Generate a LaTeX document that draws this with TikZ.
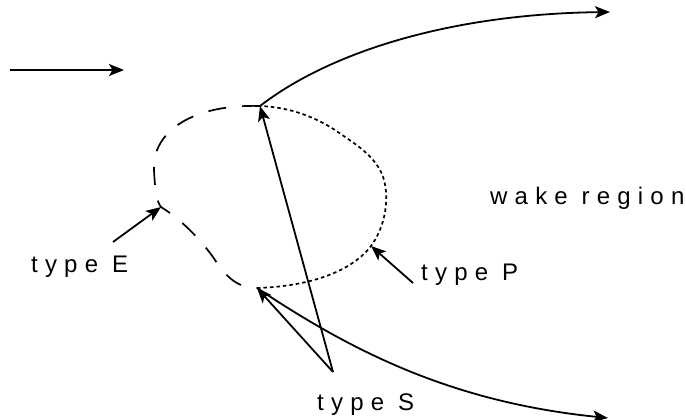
\documentclass[tikz,border=0pt]{standalone}
\usepackage{fontspec}
\setmainfont{Liberation Sans}[LetterSpace=30]
\usetikzlibrary{arrows.meta}
\begin{document}
\begin{tikzpicture}[x=1pt,y=-1pt,
  solidline/.style={line width=1.8pt},
  arr/.style={solidline,-{Stealth[length=15pt,width=12pt,inset=3.5pt]}},
  sepE/.style={line width=1.7pt,dash pattern=on 18pt off 16pt},
  sepP/.style={line width=1.7pt,dash pattern=on 3.5pt off 3pt},
  lbl/.style={font=\fontsize{24}{26}\selectfont,anchor=base west,inner sep=0pt}]
\useasboundingbox (0,0) rectangle (686,420);
% points
\coordinate (flowA) at (10,70);
\coordinate (flowB) at (124,70);
\coordinate (top) at (260,106);
\coordinate (bot) at (257,288);
\coordinate (topEnd) at (610,12);
\coordinate (botEnd) at (608,418);
\coordinate (Etip) at (161,207);
\coordinate (Etail) at (113,242);
\coordinate (Ptip) at (371,246);
\coordinate (Ptail) at (413,283);
\coordinate (apex) at (333,372);
% labels
\node[lbl] (tE) at (31,272) {type E};
\node[lbl] (tP) at (421,280) {type P};
\node[lbl] (tS) at (317,410) {type S};
\node[lbl] (wake) at (490,204) {wake region};
% free stream
\draw[arr] (flowA) -- (flowB);
% shear layers
\draw[arr] (top) .. controls (330,52) and (450,14) .. (topEnd);
\draw[arr] (bot) .. controls (350,350) and (450,402) .. (botEnd);
% type E boundary
\draw[sepE] (top) .. controls (195,104) and (152,130) .. (154,170)
  .. controls (155,192) and (157,202) .. (Etip)
  .. controls (185,222) and (205,245) .. (215,260)
  .. controls (228,280) and (240,288) .. (bot);
% type P boundary
\draw[sepP] (bot) .. controls (320,286) and (360,266) .. (375,240)
  .. controls (389,216) and (389,186) .. (380,170)
  .. controls (370,152) and (352,142) .. (335,130)
  .. controls (310,114) and (285,107) .. (top);
% label arrows
\draw[arr] (Etail) -- (Etip);
\draw[arr] (Ptail) -- (Ptip);
\draw[arr] (apex) -- (top);
\draw[arr] (apex) -- (bot);
\end{tikzpicture}
\end{document}
